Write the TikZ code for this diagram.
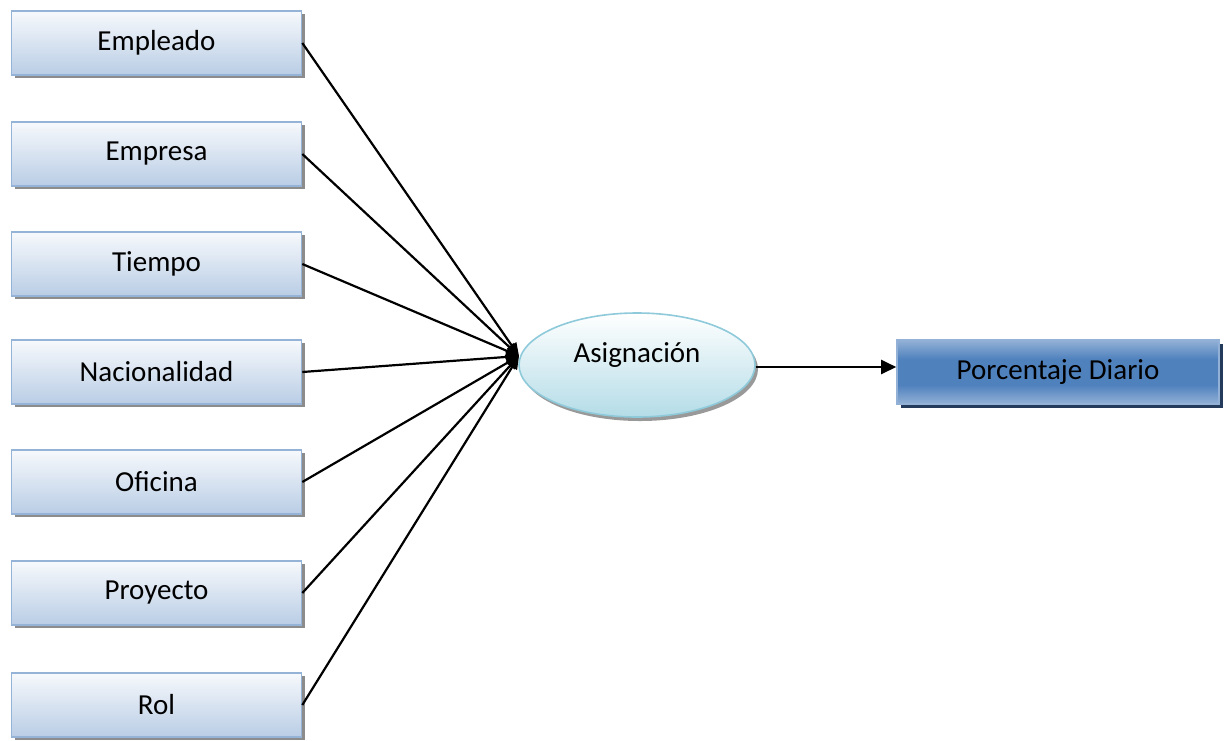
\documentclass[tikz,border=0pt]{standalone}
\usepackage{fontspec}
\setmainfont{Carlito}
\usetikzlibrary{shadows,arrows.meta,shapes.geometric}
\definecolor{boxedge}{HTML}{95B3D7}
\definecolor{boxlow}{HTML}{B9CDE5}
\definecolor{boxtop}{HTML}{F7F9FC}
\definecolor{elledge}{HTML}{8FCADB}
\definecolor{elllow}{HTML}{B4DCE7}
\definecolor{outmid}{HTML}{4F81BD}
\definecolor{outedge}{HTML}{93B1D6}
\definecolor{outshadow}{HTML}{253B5C}
% light at top and bottom, saturated blue across the middle
\pgfdeclareverticalshading{outshade}{100bp}{%
  color(0bp)=(outedge); color(25bp)=(outedge); color(40bp)=(outmid);
  color(60bp)=(outmid); color(75bp)=(outedge); color(100bp)=(outedge)}
\tikzset{
  source/.style={draw=boxedge, line width=1.6pt, top color=boxtop, bottom color=boxlow,
    minimum width=290pt, minimum height=64pt, inner sep=0pt,
    font=\fontsize{29}{33}\selectfont,
    drop shadow={shadow xshift=3pt, shadow yshift=-3pt, fill=black!45, opacity=1}},
  process/.style={ellipse, draw=elledge, line width=1.6pt, top color=white, bottom color=elllow,
    minimum width=236pt, minimum height=104pt, inner sep=0pt,
    drop shadow={shadow xshift=3pt, shadow yshift=-4pt, fill=black!40, opacity=1}},
  result/.style={draw=outedge, line width=1.6pt, shading=outshade,
    minimum width=322pt, minimum height=64pt, inner sep=0pt,
    font=\fontsize{29}{33}\selectfont,
    drop shadow={shadow xshift=4pt, shadow yshift=-4pt, fill=outshadow, opacity=1}},
  feed/.style={line width=2.2pt, -{Triangle[length=13pt,width=11pt]}},
  label/.style={font=\fontsize{29}{33}\selectfont, inner sep=0pt}
}
\begin{document}
\begin{tikzpicture}[x=1pt,y=-1pt]
\useasboundingbox (0,0) rectangle (1229,740);

% input dimensions
\node[source] (emp)  at (156.5,43)  {Empleado};
\node[source] (ems)  at (156.5,154) {Empresa};
\node[source] (tie)  at (156.5,264) {Tiempo};
\node[source] (nac)  at (156.5,372) {Nacionalidad};
\node[source] (ofi)  at (156.5,482) {Oficina};
\node[source] (pro)  at (156.5,593) {Proyecto};
\node[source] (rol)  at (156.5,705) {Rol};

% central fact
\node[process] (asig) at (637,365) {};
\node[label] (asigtxt) at (637,355) {Asignación};
\coordinate (hub) at (519,356);

% output measure
\node[result] (pct) at (1058,372) {Porcentaje Diario};

\foreach \n in {emp,ems,tie,nac,ofi,pro,rol}
  \draw[feed] (\n.east) -- (hub);

\draw[feed, -{Triangle[length=15pt,width=14pt]}] (asig.east |- 0,367) coordinate (aout) -- (pct.west |- aout);
\end{tikzpicture}
\end{document}
